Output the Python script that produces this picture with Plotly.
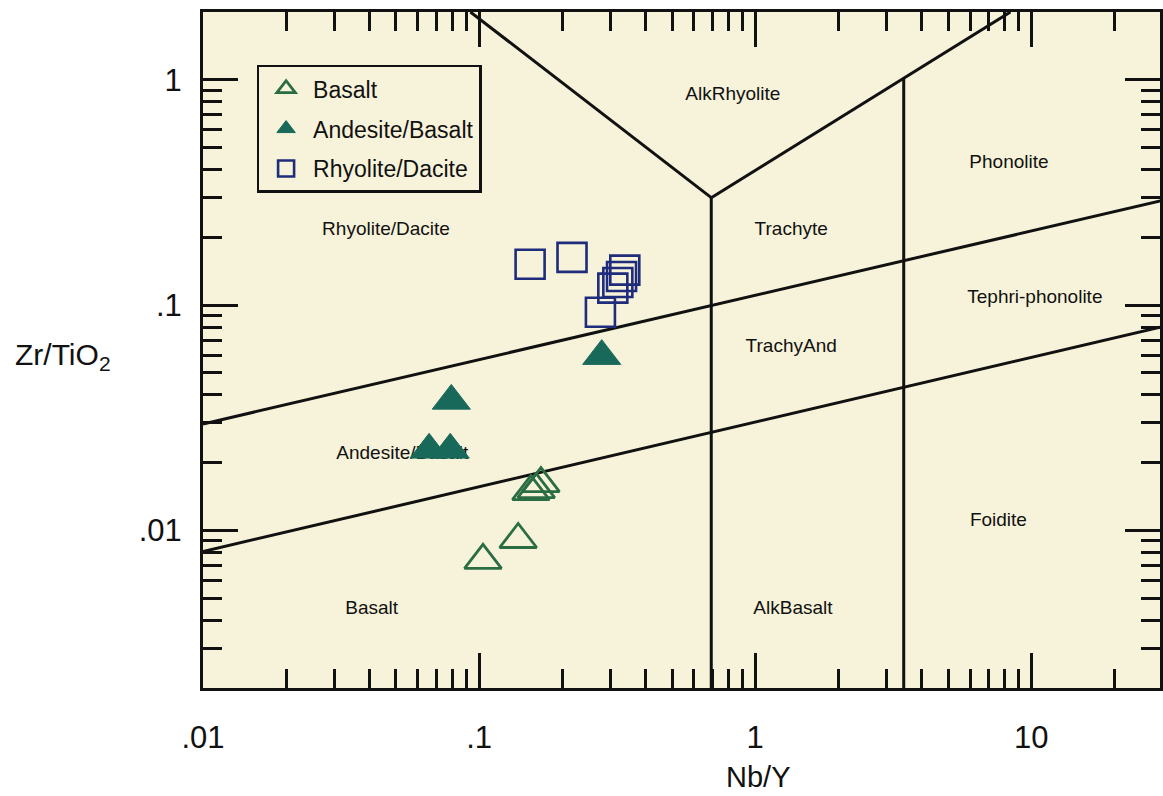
import plotly.graph_objects as go

# ---------------- data (Nb/Y , Zr/TiO2) ----------------
basalt_nby = [0.1675, 0.161, 0.154, 0.1385, 0.1033]
basalt_zrti = [0.01614, 0.01518, 0.01489, 0.00912, 0.00737]

andbas_nby = [0.278, 0.0793, 0.0659, 0.0786]
andbas_zrti = [0.0594, 0.0376, 0.0228, 0.0228]

rhyda_nby = [0.153, 0.217, 0.337, 0.328, 0.318, 0.305, 0.275]
rhyda_zrti = [0.152, 0.163, 0.143, 0.134, 0.126, 0.119, 0.093]

# field boundaries of the classification diagram
bnd_left_diag_x = [0.093, 0.693]
bnd_left_diag_y = [2.0, 0.30]
bnd_right_diag_x = [0.693, 8.4]
bnd_right_diag_y = [0.30, 2.0]
bnd_vert1_x = [0.693, 0.693]
bnd_vert1_y = [0.30, 0.002]
bnd_vert2_x = [3.45, 3.45]
bnd_vert2_y = [1.02, 0.002]
bnd_upper_x = [0.01, 29.3]
bnd_upper_y = [0.0297, 0.29]
bnd_lower_x = [0.01, 29.3]
bnd_lower_y = [0.00807, 0.0798]

# field names
field_names = ["AlkRhyolite", "Rhyolite/Dacite", "Trachyte", "Phonolite",
               "Tephri-phonolite", "TrachyAnd", "Andesite/Basalt", "Basalt",
               "AlkBasalt", "Foidite"]
field_x = [0.83, 0.046, 1.35, 8.3, 10.3, 1.35, 0.0527, 0.0408, 1.37, 7.6]
field_y = [0.85, 0.215, 0.215, 0.425, 0.107, 0.065, 0.0217, 0.00447, 0.00447, 0.011]

# axis ticks
x_tickvals = [0.01, 0.1, 1, 10]
x_ticktext = [".01", ".1", "1", "10"]
y_tickvals = [0.01, 0.1, 1]
y_ticktext = [".01", ".1", "1"]

# ---------------- styling ----------------
FONT = "Liberation Sans, Arial, Helvetica, sans-serif"
INK = "#111111"
BG = "#f7f3da"
OPEN_GREEN = "#2b6d43"
TEAL = "#19695a"
NAVY = "#1f2b7b"

x_minor = [m * 10 ** e for e in range(-2, 2) for m in range(2, 10)]
y_minor = [m * 10 ** e for e in range(-3, 1) for m in range(2, 10)]

fig = go.Figure()

# field labels (behind markers)
fig.add_trace(go.Scatter(
    x=field_x, y=field_y, mode="text", text=field_names,
    textfont=dict(family=FONT, size=19, color=INK),
    showlegend=False, hoverinfo="skip"))

# boundary lines
for bx, by in [(bnd_left_diag_x, bnd_left_diag_y),
               (bnd_right_diag_x, bnd_right_diag_y),
               (bnd_vert1_x, bnd_vert1_y),
               (bnd_vert2_x, bnd_vert2_y),
               (bnd_upper_x, bnd_upper_y),
               (bnd_lower_x, bnd_lower_y)]:
    fig.add_trace(go.Scatter(x=bx, y=by, mode="lines",
                             line=dict(color=INK, width=3),
                             showlegend=False, hoverinfo="skip"))

# samples
fig.add_trace(go.Scatter(
    x=basalt_nby, y=basalt_zrti, mode="markers", name="Basalt",
    legendgroup="a",
    marker=dict(symbol="triangle-up-open", size=32, color=OPEN_GREEN,
                line=dict(color=OPEN_GREEN, width=2.8))))
fig.add_trace(go.Scatter(
    x=andbas_nby, y=andbas_zrti, mode="markers", name="Andesite/Basalt",
    legendgroup="b",
    marker=dict(symbol="triangle-up", size=33, color=TEAL,
                line=dict(color=TEAL, width=1))))
fig.add_trace(go.Scatter(
    x=rhyda_nby, y=rhyda_zrti, mode="markers", name="Rhyolite/Dacite",
    legendgroup="c",
    marker=dict(symbol="square-open", size=29, color=NAVY,
                line=dict(color=NAVY, width=2.6))))

axis_common = dict(
    type="log", showgrid=False, zeroline=False,
    showline=True, linecolor=INK, linewidth=3, mirror="allticks",
    ticks="inside", ticklen=35, tickwidth=2.5, tickcolor=INK,
    tickmode="array",
    tickfont=dict(family=FONT, size=31, color=INK),
)

fig.update_xaxes(
    **axis_common,
    range=[-2, 1.466],
    tickvals=x_tickvals, ticktext=x_ticktext,
    ticklabelstandoff=20,
    minor=dict(tickmode="array", tickvals=x_minor, ticks="inside",
               ticklen=19, tickwidth=2.5, tickcolor=INK, showgrid=False),
)
fig.update_yaxes(
    **axis_common,
    range=[-2.699, 0.301],
    tickvals=y_tickvals, ticktext=y_ticktext,
    ticklabelstandoff=12,
    minor=dict(tickmode="array", tickvals=y_minor, ticks="inside",
               ticklen=19, tickwidth=2.5, tickcolor=INK, showgrid=False),
)

# axis titles
fig.add_annotation(
    text="Nb/Y", xref="paper", yref="paper",
    x=0.58, y=-0.131, xanchor="center", yanchor="middle", showarrow=False,
    font=dict(family=FONT, size=29, color=INK))
fig.add_annotation(
    text="Zr/TiO<sub>2</sub>", xref="paper", yref="paper",
    x=-0.199, y=0.49, xanchor="left", yanchor="middle", showarrow=False,
    font=dict(family=FONT, size=30, color=INK))

fig.update_layout(
    width=1163, height=796,
    margin=dict(l=203, r=0, t=12, b=108),
    paper_bgcolor="white", plot_bgcolor=BG,
    font=dict(family=FONT, color=INK),
    legend=dict(x=0.056, y=0.922, xanchor="left", yanchor="top",
                bgcolor=BG, bordercolor=INK, borderwidth=2.5,
                font=dict(family=FONT, size=23, color=INK),
                tracegroupgap=7, itemwidth=44),
)

fig.write_html(
    "out.html",
    config={"displayModeBar": False},
    post_script="document.body.style.margin='0px';document.body.style.padding='0px';",
)
